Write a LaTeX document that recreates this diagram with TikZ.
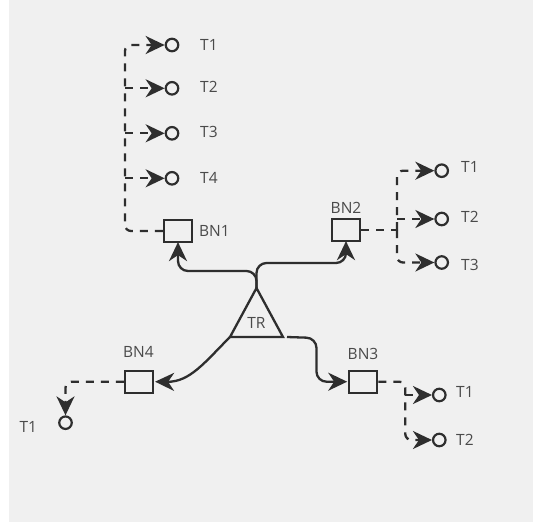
\documentclass[tikz,border=0pt]{standalone}
\usepackage{fontspec}
\setmainfont{Open Sans}
\usetikzlibrary{arrows.meta}
\definecolor{bg}{HTML}{F0F0F0}
\definecolor{ln}{HTML}{2E2E2E}
\definecolor{tx}{HTML}{4A4A4A}
\begin{document}
\begin{tikzpicture}[x=1pt,y=-1pt,
  box/.style={draw=ln,line width=2.2pt,minimum width=28pt,minimum height=22pt,inner sep=0pt},
  term/.style={circle,draw=ln,line width=2.2pt,minimum size=12.5pt,inner sep=0pt},
  lbl/.style={text=tx,font=\fontsize{15.5}{18}\selectfont,inner sep=0pt},
  arrowtip/.style={-{Stealth[length=19pt,width=18pt,inset=6pt]}},
  conn/.style={draw=ln,line width=2.3pt,rounded corners=10pt,arrowtip},
  dconn/.style={draw=ln,line width=2.3pt,dash pattern=on 8pt off 7pt,rounded corners=6pt,arrowtip},
  dline/.style={draw=ln,line width=2.3pt,dash pattern=on 8pt off 7pt,rounded corners=6pt}
]
\useasboundingbox (0,0) rectangle (533,522);
\fill[white] (0,0) rectangle (533,522);
\fill[bg] (9,0) rectangle (533,522);

% transformer
\coordinate (apex) at (256.5,288);
\coordinate (bl) at (230,337);
\coordinate (br) at (283,337);
\draw[ln,line width=2.3pt,line join=miter] (apex) -- (br) -- (bl) -- cycle;
\node[lbl] (trl) at (256.5,323) {TR};

% boxes
\node[box] (bn1) at (178,231) {};
\node[box] (bn2) at (346,230) {};
\node[box] (bn3) at (363.3,381.7) {};
\node[box] (bn4) at (139,381.7) {};
\node[lbl,anchor=west] (bn1l) at (199,231) {BN1};
\node[lbl] (bn2l) at (346,208) {BN2};
\node[lbl] (bn3l) at (363,353.5) {BN3};
\node[lbl] (bn4l) at (138.5,352) {BN4};

% solid connectors
\draw[conn] (apex) -- (256.5,271) -| ([yshift=1pt]bn1.south);
\draw[conn] (apex) -- (256.5,263) -| ([yshift=1pt]bn2.south);
\draw[conn] ([xshift=4pt]br) -- (316.5,338) |- ([xshift=-1pt]bn3.west);
\draw[conn] (bl) .. controls (205,362) and (190,382) .. ([xshift=1pt]bn4.east);

% BN1 terminals
\node[term] (a1) at (172,45) {};
\node[term] (a2) at (172,88.3) {};
\node[term] (a3) at (172,133.3) {};
\node[term] (a4) at (172,178.3) {};
\node[lbl,anchor=west] (a1l) at (200,45) {T1};
\node[lbl,anchor=west] (a2l) at (200,87) {T2};
\node[lbl,anchor=west] (a3l) at (200,132) {T3};
\node[lbl,anchor=west] (a4l) at (200,178.3) {T4};
\coordinate (a2j) at (125,88.3);
\coordinate (a3j) at (125,133.3);
\coordinate (a4j) at (125,178.3);
\draw[dconn] (bn1.west) -- (125,231) -- (125,45) -- (a1.west);
\draw[dconn] (a2j) -- (a2.west);
\draw[dconn] (a3j) -- (a3.west);
\draw[dconn] (a4j) -- (a4.west);

% BN2 terminals
\node[term] (b1) at (441.7,170.7) {};
\node[term] (b2) at (441.7,219) {};
\node[term] (b3) at (441.7,262.5) {};
\node[lbl,anchor=west] (b1l) at (461,167) {T1};
\node[lbl,anchor=west] (b2l) at (461,217) {T2};
\node[lbl,anchor=west] (b3l) at (461,265) {T3};
\coordinate (b0) at (397,230);
\coordinate (b2j) at (397,219);
\draw[dline] (bn2.east) -- (b0);
\draw[dconn] (b0) -- (397,170.7) -- (b1.west);
\draw[dconn] (b0) -- (397,262.5) -- (b3.west);
\draw[dconn] (b2j) -- (b2.west);

% BN3 terminals
\node[term] (c1) at (439.3,395) {};
\node[term] (c2) at (439.3,440) {};
\node[lbl,anchor=west] (c1l) at (456,391.7) {T1};
\node[lbl,anchor=west] (c2l) at (456,440) {T2};
\coordinate (c1j) at (405.3,395);
\draw[dconn] (bn3.east) -- (405.3,381.7) -- (405.3,440) -- (c2.west);
\draw[dconn] (c1j) -- (c1.west);

% BN4 terminal
\node[term] (d1) at (65.5,422.7) {};
\node[lbl] (d1l) at (28.3,426.7) {T1};
\draw[dconn] (bn4.west) -- (65.5,381.7) -- (d1.north);
\end{tikzpicture}
\end{document}
